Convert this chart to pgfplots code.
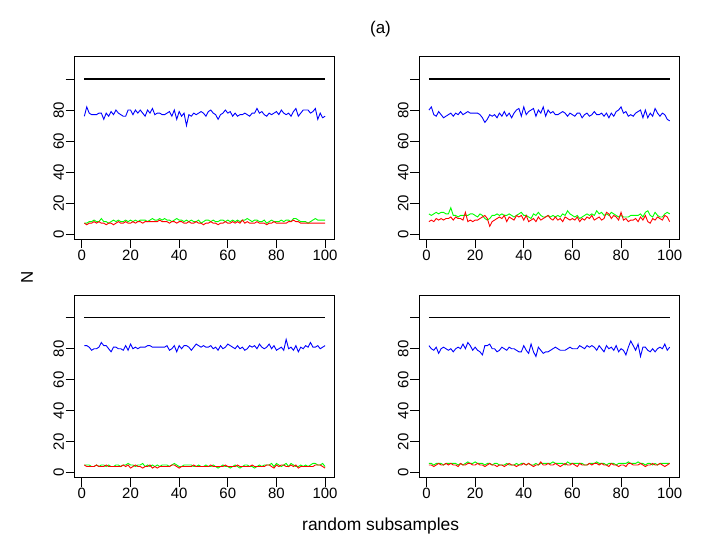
\documentclass[border=0pt]{standalone}
\usepackage{fontspec}
\setmainfont{Liberation Sans}
\usepackage{pgfplots}
\usepackage{pgfplotstable}
\pgfplotsset{compat=1.18}

% Panel 1 (top left)
\pgfplotstableread[row sep=\\,header=false]{
76\\82\\78\\77\\77\\77\\78\\78\\74\\78\\
76\\79\\77\\80\\78\\77\\76\\76\\80\\80\\
77\\80\\78\\80\\78\\76\\80\\78\\81\\77\\
78\\78\\77\\77\\78\\79\\76\\80\\74\\79\\
76\\78\\70\\77\\76\\78\\77\\78\\79\\78\\
76\\79\\80\\78\\77\\74\\77\\78\\80\\78\\
79\\76\\78\\76\\77\\77\\78\\77\\76\\78\\
78\\81\\78\\79\\77\\76\\78\\77\\78\\79\\
77\\80\\78\\77\\78\\76\\79\\81\\76\\78\\
80\\80\\80\\78\\79\\81\\74\\78\\75\\76\\
}\pAb
\pgfplotstableread[row sep=\\,header=false]{
7\\7\\8\\8\\9\\8\\8\\10\\8\\8\\
7\\8\\9\\8\\9\\8\\8\\9\\8\\9\\
8\\9\\8\\9\\9\\9\\8\\9\\10\\9\\
9\\10\\9\\10\\9\\9\\8\\9\\10\\9\\
9\\8\\9\\8\\9\\8\\8\\9\\7\\8\\
9\\9\\8\\9\\8\\8\\9\\9\\8\\9\\
8\\9\\8\\9\\8\\9\\9\\10\\9\\8\\
9\\9\\8\\8\\9\\7\\8\\9\\8\\8\\
8\\9\\8\\9\\9\\8\\10\\10\\9\\8\\
8\\8\\7\\8\\9\\10\\9\\9\\9\\9\\
}\pAg
\pgfplotstableread[row sep=\\,header=false]{
7\\6\\7\\7\\8\\7\\8\\7\\7\\6\\
7\\7\\6\\7\\8\\7\\7\\8\\7\\7\\
8\\7\\8\\8\\7\\8\\8\\8\\8\\8\\
8\\9\\8\\8\\8\\7\\8\\8\\7\\8\\
8\\7\\7\\8\\7\\7\\8\\7\\7\\6\\
7\\7\\8\\7\\7\\6\\7\\7\\8\\7\\
7\\8\\7\\8\\7\\9\\7\\8\\7\\7\\
7\\8\\7\\7\\7\\6\\7\\7\\8\\7\\
7\\7\\7\\7\\8\\8\\9\\8\\8\\7\\
7\\7\\7\\7\\7\\7\\7\\7\\7\\7\\
}\pAr

% Panel 2 (top right)
\pgfplotstableread[row sep=\\,header=false]{
80\\82\\77\\76\\79\\77\\75\\76\\77\\78\\
76\\78\\77\\79\\77\\78\\79\\78\\78\\78\\
78\\77\\75\\72\\74\\77\\76\\77\\75\\78\\
76\\79\\76\\78\\75\\78\\80\\81\\76\\82\\
77\\79\\80\\81\\76\\80\\78\\82\\76\\80\\
78\\79\\77\\77\\78\\79\\78\\76\\78\\77\\
76\\78\\78\\75\\77\\78\\76\\77\\79\\77\\
77\\78\\76\\78\\75\\78\\76\\79\\80\\82\\
78\\79\\76\\77\\76\\78\\79\\80\\75\\80\\
75\\78\\76\\81\\78\\76\\78\\77\\74\\73\\
}\pBb
\pgfplotstableread[row sep=\\,header=false]{
13\\12\\13\\14\\13\\14\\14\\13\\13\\17\\
12\\12\\11\\12\\12\\12\\12\\13\\13\\12\\
11\\13\\12\\10\\9\\10\\12\\12\\13\\12\\
13\\12\\12\\13\\12\\11\\12\\13\\14\\12\\
12\\11\\10\\13\\12\\14\\12\\11\\11\\12\\
11\\12\\11\\12\\11\\13\\12\\15\\13\\12\\
11\\12\\10\\11\\12\\13\\12\\13\\12\\15\\
13\\14\\12\\13\\12\\14\\13\\12\\11\\12\\
11\\11\\11\\12\\12\\12\\12\\13\\11\\14\\
15\\12\\11\\14\\12\\11\\11\\13\\14\\13\\
}\pBg
\pgfplotstableread[row sep=\\,header=false]{
8\\9\\8\\10\\9\\10\\9\\10\\10\\11\\
9\\11\\10\\10\\9\\14\\8\\9\\8\\9\\
9\\10\\11\\12\\10\\5\\8\\9\\10\\11\\
10\\12\\8\\11\\10\\9\\12\\11\\12\\9\\
12\\8\\9\\10\\8\\11\\9\\10\\11\\12\\
10\\9\\11\\9\\10\\8\\11\\10\\9\\10\\
9\\11\\8\\10\\9\\11\\10\\12\\9\\10\\
11\\9\\10\\14\\13\\10\\12\\11\\9\\14\\
9\\10\\8\\9\\9\\10\\8\\11\\9\\12\\
8\\7\\10\\9\\11\\10\\9\\12\\11\\8\\
}\pBr

% Panel 3 (bottom left)
\pgfplotstableread[row sep=\\,header=false]{
82\\82\\81\\79\\80\\80\\81\\84\\82\\82\\
80\\78\\81\\81\\80\\80\\79\\82\\79\\83\\
80\\81\\80\\81\\81\\81\\82\\82\\81\\81\\
81\\81\\81\\81\\82\\79\\80\\82\\78\\82\\
80\\82\\82\\81\\79\\81\\83\\82\\81\\82\\
81\\81\\82\\80\\81\\79\\82\\80\\81\\83\\
82\\81\\80\\82\\80\\81\\79\\80\\82\\81\\
82\\80\\83\\81\\80\\81\\83\\80\\82\\79\\
80\\81\\79\\86\\80\\81\\79\\82\\78\\81\\
80\\82\\81\\84\\81\\81\\82\\80\\81\\82\\
}\pCb
\pgfplotstableread[row sep=\\,header=false]{
5\\5\\5\\4\\4\\5\\4\\5\\5\\4\\
5\\4\\4\\5\\5\\4\\5\\5\\6\\5\\
5\\4\\5\\5\\6\\4\\5\\4\\5\\4\\
5\\4\\5\\5\\5\\4\\5\\6\\5\\4\\
4\\5\\5\\5\\5\\4\\4\\5\\4\\4\\
5\\4\\4\\5\\4\\3\\4\\5\\4\\4\\
3\\4\\5\\4\\3\\4\\5\\5\\4\\4\\
3\\4\\5\\4\\5\\5\\5\\6\\4\\6\\
5\\4\\5\\6\\4\\6\\5\\4\\4\\5\\
4\\5\\4\\5\\6\\6\\5\\5\\6\\4\\
}\pCg
\pgfplotstableread[row sep=\\,header=false]{
5\\4\\4\\4\\4\\5\\4\\4\\4\\5\\
4\\4\\4\\4\\4\\4\\5\\4\\5\\3\\
4\\5\\4\\4\\3\\4\\4\\5\\3\\4\\
3\\4\\4\\4\\4\\4\\5\\5\\4\\3\\
4\\4\\4\\4\\4\\5\\4\\4\\4\\4\\
4\\4\\5\\4\\4\\4\\4\\4\\5\\4\\
4\\4\\4\\5\\4\\4\\4\\4\\4\\5\\
4\\4\\4\\4\\4\\5\\5\\4\\3\\5\\
4\\5\\5\\4\\4\\5\\4\\5\\3\\4\\
4\\4\\4\\4\\4\\5\\5\\5\\4\\3\\
}\pCr

% Panel 4 (bottom right)
\pgfplotstableread[row sep=\\,header=false]{
82\\80\\79\\81\\77\\80\\81\\80\\79\\80\\
78\\80\\81\\80\\83\\80\\84\\82\\79\\81\\
79\\78\\76\\82\\82\\83\\80\\80\\78\\79\\
81\\80\\79\\81\\80\\80\\79\\78\\78\\82\\
79\\77\\83\\78\\75\\81\\79\\77\\78\\78\\
79\\80\\81\\80\\79\\79\\79\\80\\81\\80\\
80\\80\\82\\81\\80\\82\\81\\82\\81\\79\\
82\\80\\78\\82\\80\\81\\79\\82\\78\\80\\
79\\76\\81\\85\\82\\79\\83\\75\\81\\81\\
79\\78\\80\\78\\80\\81\\80\\83\\79\\81\\
}\pDb
\pgfplotstableread[row sep=\\,header=false]{
6\\6\\5\\6\\6\\6\\5\\6\\6\\6\\
6\\6\\5\\6\\5\\6\\7\\6\\6\\7\\
6\\6\\6\\5\\6\\6\\5\\6\\6\\5\\
5\\5\\6\\5\\5\\5\\6\\5\\6\\6\\
5\\6\\5\\5\\6\\5\\6\\6\\6\\6\\
6\\7\\6\\6\\6\\6\\5\\7\\6\\6\\
6\\6\\6\\6\\5\\5\\6\\6\\6\\7\\
6\\6\\6\\5\\6\\6\\6\\5\\6\\6\\
6\\6\\7\\6\\6\\6\\7\\6\\6\\5\\
6\\6\\5\\6\\5\\6\\6\\6\\6\\6\\
}\pDg
\pgfplotstableread[row sep=\\,header=false]{
5\\5\\4\\5\\6\\5\\5\\6\\5\\6\\
5\\5\\4\\6\\5\\5\\6\\6\\5\\5\\
6\\5\\5\\4\\5\\6\\5\\5\\4\\5\\
5\\4\\5\\6\\5\\5\\4\\5\\5\\6\\
5\\6\\5\\4\\5\\5\\7\\5\\5\\6\\
5\\5\\6\\5\\4\\5\\6\\5\\5\\6\\
5\\4\\6\\5\\5\\5\\6\\5\\6\\6\\
5\\6\\5\\5\\4\\6\\5\\5\\4\\5\\
5\\4\\6\\6\\5\\5\\5\\6\\5\\4\\
5\\5\\6\\5\\5\\6\\5\\4\\5\\6\\
}\pDr

\pgfplotsset{
  panel/.style={
    scale only axis, width=260bp, height=182.3bp, anchor=south west,
    xmin=-2.96, xmax=103.96, ymin=-3.2, ymax=114.4,
    xtick={0,20,40,60,80,100}, xticklabels={0,20,40,60,80,100},
    ytick={0,20,40,60,80,100}, yticklabels={0,20,40,60,80,{}},
    tick align=outside, xtick pos=left, ytick pos=left,
    major tick length=9bp,
    tick style={black, line width=0.9bp},
    axis line style={line width=0.9bp},
    ticklabel style={font=\fontsize{15}{17}\selectfont, text=black},
    yticklabel style={rotate=90, anchor=south, inner sep=1.5bp},
    xticklabel style={anchor=north, inner sep=1.5bp},
  },
  blk/.style={black, line width=1.1bp},
  bl/.style={blue, line width=0.9bp},
  gr/.style={green, line width=0.9bp},
  rd/.style={red, line width=0.9bp},
}

\begin{document}
\begin{tikzpicture}
\useasboundingbox (0bp,0bp) rectangle (726bp,553bp);

\begin{axis}[panel, at={(74.7bp,314bp)}]
\addplot[blk] coordinates {(1,100) (100,100)};
\addplot[bl] table[x expr=\coordindex+1, y index=0] {\pAb};
\addplot[gr] table[x expr=\coordindex+1, y index=0] {\pAg};
\addplot[rd] table[x expr=\coordindex+1, y index=0] {\pAr};
\end{axis}

\begin{axis}[panel, at={(419.3bp,314bp)}]
\addplot[blk] coordinates {(1,100) (100,100)};
\addplot[bl] table[x expr=\coordindex+1, y index=0] {\pBb};
\addplot[gr] table[x expr=\coordindex+1, y index=0] {\pBg};
\addplot[rd] table[x expr=\coordindex+1, y index=0] {\pBr};
\end{axis}

\begin{axis}[panel, at={(74.7bp,75.3bp)}]
\addplot[blk] coordinates {(1,100) (100,100)};
\addplot[bl] table[x expr=\coordindex+1, y index=0] {\pCb};
\addplot[gr] table[x expr=\coordindex+1, y index=0] {\pCg};
\addplot[rd] table[x expr=\coordindex+1, y index=0] {\pCr};
\end{axis}

\begin{axis}[panel, at={(419.3bp,75.3bp)}]
\addplot[blk] coordinates {(1,100) (100,100)};
\addplot[bl] table[x expr=\coordindex+1, y index=0] {\pDb};
\addplot[gr] table[x expr=\coordindex+1, y index=0] {\pDg};
\addplot[rd] table[x expr=\coordindex+1, y index=0] {\pDr};
\end{axis}

\node[font=\fontsize{17}{20}\selectfont, anchor=center] at (380.5bp,523.8bp) {(a)};
\node[font=\fontsize{17}{20}\selectfont, anchor=center, rotate=90] at (27bp,276bp) {N};
\node[font=\fontsize{17.5}{20}\selectfont, anchor=base] at (380.7bp,22.5bp) {random subsamples};
\end{tikzpicture}
\end{document}
